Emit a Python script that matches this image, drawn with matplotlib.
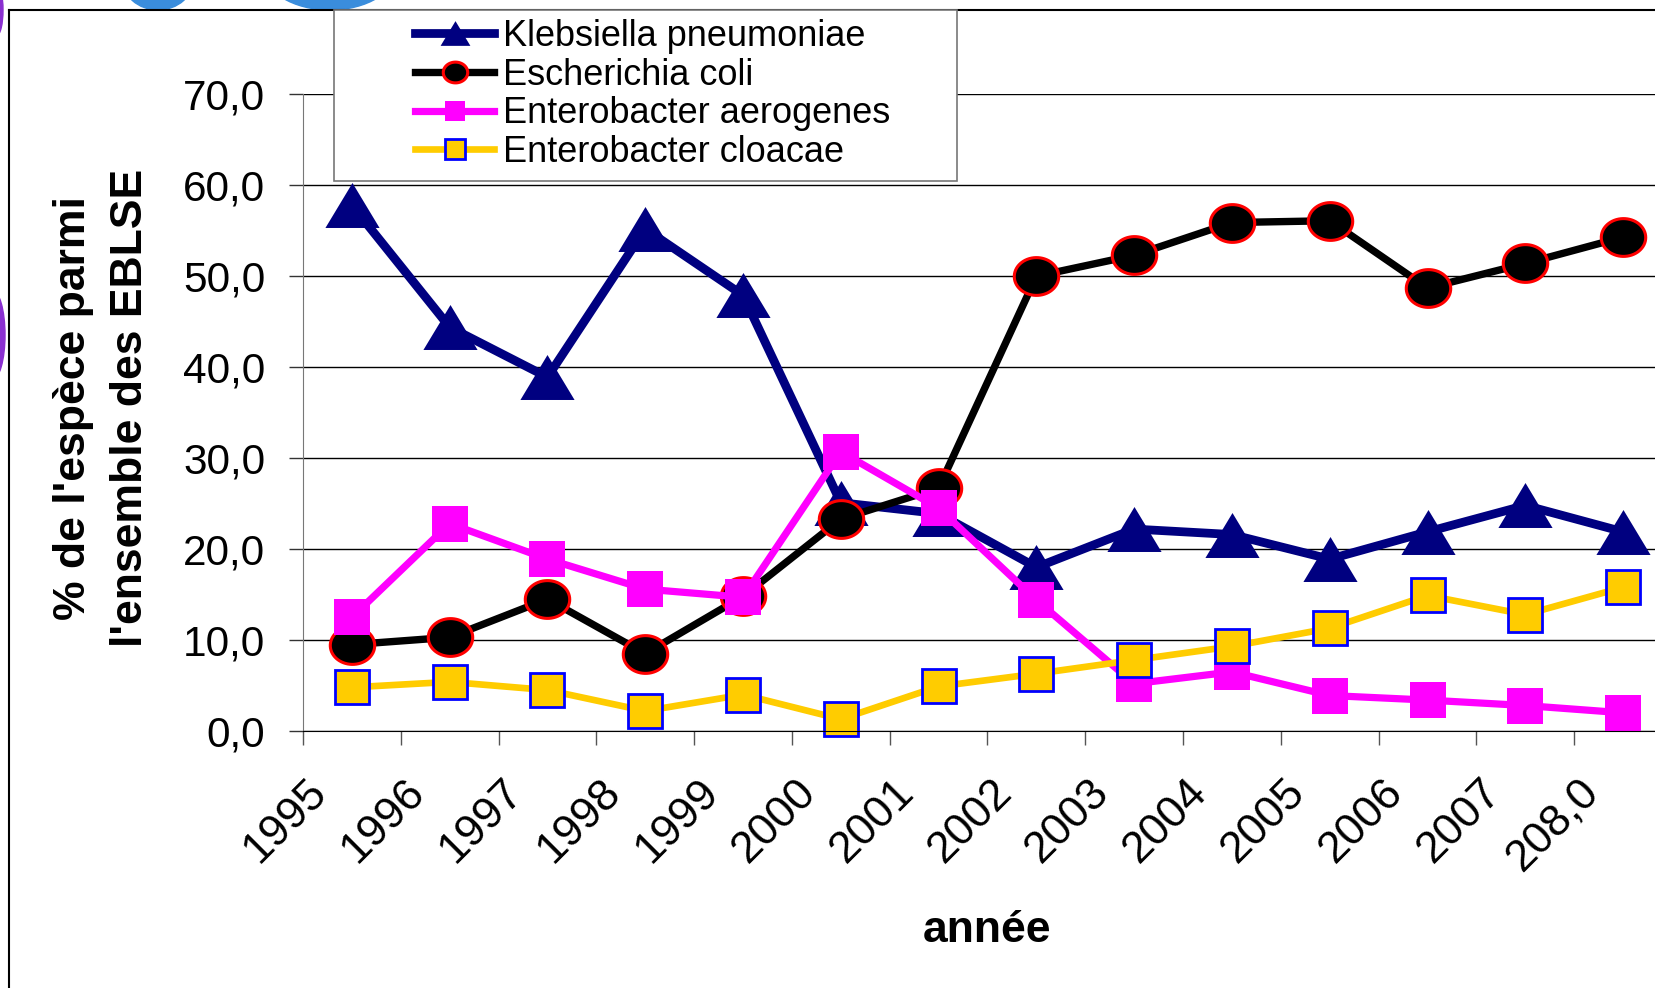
import numpy as np
import matplotlib
matplotlib.use("Agg")
import matplotlib.pyplot as plt
from matplotlib.path import Path
from matplotlib.patches import Rectangle, Ellipse
from matplotlib.lines import Line2D

plt.rcParams['font.family'] = ['Liberation Sans', 'DejaVu Sans']

# data
years = ['1995', '1996', '1997', '1998', '1999', '2000', '2001',
         '2002', '2003', '2004', '2005', '2006', '2007', '208,0']
klebsiella = [57.8, 44.4, 38.9, 55.2, 47.9, 25.1, 23.9, 18.0, 22.2, 21.6, 18.9, 21.9, 24.8, 21.9]
e_coli = [9.5, 10.3, 14.5, 8.5, 14.8, 23.3, 26.7, 50.0, 52.3, 55.9, 56.1, 48.7, 51.4, 54.3]
aerogenes = [12.5, 22.8, 18.9, 15.6, 14.7, 30.7, 24.5, 14.4, 5.2, 6.5, 3.9, 3.4, 2.8, 2.0]
cloacae = [4.8, 5.4, 4.5, 2.2, 4.0, 1.3, 4.9, 6.3, 7.8, 9.3, 11.3, 14.9, 12.8, 15.8]
y_ticks = [0, 10, 20, 30, 40, 50, 60, 70]
y_ticklabels = ['0,0', '10,0', '20,0', '30,0', '40,0', '50,0', '60,0', '70,0']

W, H = 1656, 988

def fx(px):
    return px / W

def fy(py):
    return 1 - py / H

# excel-like markers (slightly squashed circle and wide triangle)
t = np.linspace(0, 2 * np.pi, 64)
ellipse_marker = Path(np.c_[np.cos(t), 0.85 * np.sin(t)], closed=True)
tri_marker = Path([[0, 0.83], [-1, -0.83], [1, -0.83], [0, 0.83]], closed=True)

fig = plt.figure(figsize=(W / 100, H / 100), dpi=100)
ax = fig.add_axes([fx(303), fy(731), fx(1672) - fx(303), fy(94.3) - fy(731)])

x = np.arange(len(years)) + 0.5
ax.plot(x, klebsiella, color='#000080', lw=6.3, marker=tri_marker, ms=39,
        mfc='#000080', mec='#000080', mew=0, label='Klebsiella pneumoniae', clip_on=False)
ax.plot(x, e_coli, color='black', lw=5.3, marker=ellipse_marker, ms=32,
        mfc='black', mec='#ff0000', mew=2.2, label='Escherichia coli', clip_on=False)
ax.plot(x, aerogenes, color='#ff00ff', lw=5.2, marker='s', ms=26.5,
        mfc='#ff00ff', mec='#ff00ff', mew=0, label='Enterobacter aerogenes', clip_on=False)
ax.plot(x, cloacae, color='#ffcc00', lw=4.8, marker='s', ms=25,
        mfc='#ffcc00', mec='#0000ff', mew=2, label='Enterobacter cloacae', clip_on=False)

ax.set_xlim(0, len(years))
ax.set_ylim(0, 70)
ax.set_yticks(y_ticks)
ax.set_yticklabels(y_ticklabels)
# tick marks on category boundaries, labels sit a bit to the right of them
ax.set_xticks(np.arange(len(years)))
ax.set_xticklabels([])
ax.set_xticks(np.arange(len(years)) + 0.33, minor=True)
ax.set_xticklabels(years, minor=True, rotation=45, ha='right', va='top')

ax.tick_params(axis='y', labelsize=30.5, length=10, width=1, color='#333333', pad=17)
ax.tick_params(axis='x', which='major', length=10, width=1, color='#555555')
ax.tick_params(axis='x', which='minor', labelsize=32, length=0, pad=29)
ax.yaxis.grid(True, color='black', lw=1)
ax.set_axisbelow(True)
for s in ['top', 'right']:
    ax.spines[s].set_visible(False)
ax.spines['left'].set_color('#777777')
ax.spines['bottom'].set_color('black')

ax.set_ylabel("% de l'espèce parmi\nl'ensemble des EBLSE", fontsize=32,
              fontweight='bold', linespacing=1.5)
ax.yaxis.set_label_coords(-0.111, 0.507)
ax.set_xlabel('année', fontsize=32, fontweight='bold')
ax.xaxis.set_label_coords(0.5, -0.281)

# legend box
fig.add_artist(Rectangle((fx(334), fy(181)), fx(957) - fx(334), fy(10.5) - fy(181),
                         transform=fig.transFigure, facecolor='white',
                         edgecolor='#777777', lw=1.2, zorder=3))
fig.legend(loc='upper left', bbox_to_anchor=(fx(415), fy(19)), frameon=False,
           fontsize=26, markerscale=0.55, borderpad=0, borderaxespad=0,
           labelspacing=0.1, handlelength=2.2, handletextpad=0.25).set_zorder(4)

# slide frame and background bits
fig.add_artist(Line2D([fx(8.5), fx(8.5)], [fy(10), 0], transform=fig.transFigure, color='black', lw=1.5))
fig.add_artist(Line2D([fx(8.5), 1], [fy(10), fy(10)], transform=fig.transFigure, color='black', lw=1.5))
fig.add_artist(Ellipse((fx(158), fy(-22)), fx(72), 64 / H, transform=fig.transFigure,
                       color='#3a8ddc', zorder=-1))
fig.add_artist(Ellipse((fx(330), fy(-32)), fx(135), 84 / H, transform=fig.transFigure,
                       color='#3a8ddc', zorder=-1))
fig.add_artist(Ellipse((fx(-8), fy(335)), fx(26), 90 / H, transform=fig.transFigure,
                       color='#8a2fd0', zorder=-1))
fig.add_artist(Ellipse((fx(-3), fy(10)), fx(12), 50 / H, transform=fig.transFigure,
                       color='#8a2fd0', zorder=-1))

fig.savefig('out.png', dpi=100)
